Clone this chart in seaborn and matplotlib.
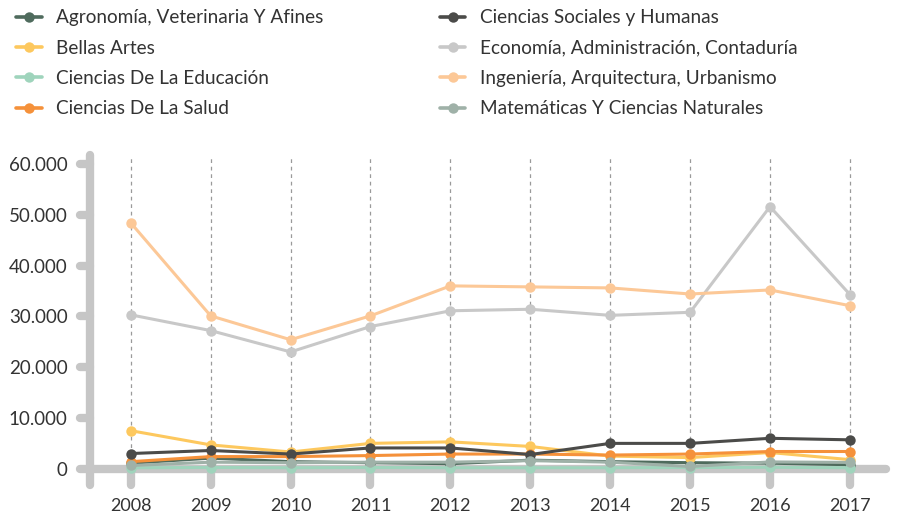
import matplotlib
matplotlib.use('Agg')
import matplotlib.pyplot as plt
import matplotlib.transforms as mtransforms
from matplotlib.ticker import FuncFormatter
import seaborn as sns
import pandas as pd

# Datos
years = [2008, 2009, 2010, 2011, 2012, 2013, 2014, 2015, 2016, 2017]
areas = [
    'Agronomía, Veterinaria Y Afines',
    'Bellas Artes',
    'Ciencias De La Educación',
    'Ciencias De La Salud',
    'Ciencias Sociales y Humanas',
    'Economía, Administración, Contaduría',
    'Ingeniería, Arquitectura, Urbanismo',
    'Matemáticas Y Ciencias Naturales',
]
agronomia = [1100, 2100, 1400, 1200, 1000, 1700, 1400, 1200, 1100, 800]
bellas_artes = [7500, 4700, 3300, 5000, 5300, 4400, 2500, 2200, 3200, 1800]
educacion = [200, 250, 200, 250, 200, 200, 200, 250, 300, 200]
salud = [1400, 2400, 2400, 2600, 2900, 2900, 2700, 2900, 3400, 3400]
sociales = [3000, 3600, 2900, 4100, 4100, 2800, 5000, 5000, 6000, 5700]
economia = [30300, 27200, 23000, 28000, 31100, 31400, 30200, 30800, 51600, 34300]
ingenieria = [48400, 30100, 25400, 30100, 36000, 35800, 35600, 34400, 35200, 32100]
matematicas = [650, 1300, 1200, 1300, 1300, 1600, 1300, 450, 1350, 1250]

colors = ['#4f6b5d', '#fdc85e', '#9fd4bc', '#f5913a',
          '#4b4b49', '#c8c8c8', '#fcc897', '#9fb1a8']

series = [agronomia, bellas_artes, educacion, salud,
          sociales, economia, ingenieria, matematicas]
rows = []
for area, vals in zip(areas, series):
    for y, v in zip(years, vals):
        rows.append({'year': y, 'value': v, 'area': area})
df = pd.DataFrame(rows)

sns.set_style('white')
plt.rcParams['font.family'] = ['Lato', 'DejaVu Sans']

fig = plt.figure(figsize=(9.03, 5.16), dpi=100)
ax = fig.add_axes([0.0997, 0.060, 0.8813, 0.640])

sns.lineplot(data=df, x='year', y='value', hue='area', hue_order=areas,
             palette=colors, marker='o', markersize=7.5, markeredgewidth=0,
             linewidth=2.2, ax=ax, legend=True, zorder=3)

ax.set_xlim(2007.49, 2017.45)
ax.set_ylim(-3200, 61800)
ax.set_xticks(years)
ax.set_yticks([0, 10000, 20000, 30000, 40000, 50000, 60000])
ax.yaxis.set_major_formatter(FuncFormatter(lambda v, p: f'{int(v):,}'.replace(',', '.')))
ax.set_xlabel('')
ax.set_ylabel('')

# ejes gruesos grises
axis_gray = '#c6c6c6'
for side in ['top', 'right']:
    ax.spines[side].set_visible(False)
ax.spines['bottom'].set_position(('data', 0))
for side in ['left', 'bottom']:
    ax.spines[side].set_color(axis_gray)
    ax.spines[side].set_linewidth(6)
    ax.spines[side].set_capstyle('round')
    ax.spines[side].set_zorder(2.5)

ax.tick_params(axis='both', length=0, labelcolor='#333333')
ax.tick_params(axis='x', pad=21, labelsize=13)
ax.tick_params(axis='y', pad=16, labelsize=13.5)

# cuadricula vertical punteada
ax.grid(axis='x', color='#9a9a9a', linestyle=(0, (3, 3)), linewidth=0.9)
ax.grid(axis='y', visible=False)
ax.set_axisbelow(True)

# marcas redondeadas de los ejes
ytr = mtransforms.blended_transform_factory(ax.transAxes, ax.transData)
for t in ax.get_yticks():
    ax.plot([-0.012, 0], [t, t], transform=ytr, color=axis_gray, lw=6,
            solid_capstyle='round', clip_on=False, zorder=2)
xtr = mtransforms.blended_transform_factory(ax.transData, ax.transAxes)
for t in years:
    ax.plot([t, t], [0, 0.046], transform=xtr, color=axis_gray, lw=6,
            solid_capstyle='round', clip_on=False, zorder=2)

# leyenda arriba en dos columnas
handles, labels = ax.get_legend_handles_labels()
ax.get_legend().remove()
leg = fig.legend(handles, labels, ncol=2, loc='upper left',
                 bbox_to_anchor=(0.018, 0.982), frameon=False,
                 fontsize=13.7, handlelength=1.35, handletextpad=0.75,
                 labelspacing=0.70, columnspacing=6.1, borderpad=0,
                 borderaxespad=0)
for txt in leg.get_texts():
    txt.set_color('#333333')
for h in leg.legend_handles:
    h.set_linewidth(2.6)

fig.savefig('out.png', dpi=100, facecolor='white')
